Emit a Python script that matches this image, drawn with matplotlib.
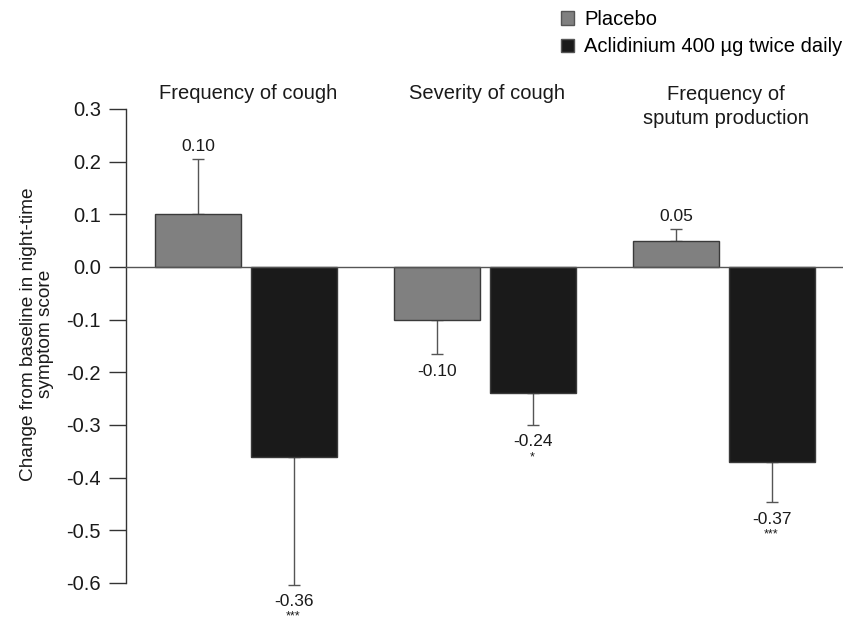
import matplotlib
matplotlib.use("Agg")
import matplotlib.pyplot as plt
from matplotlib.patches import Patch
import numpy as np

plt.rcParams['font.family'] = ['Liberation Sans', 'DejaVu Sans']

categories = ["Frequency of cough", "Severity of cough", "Frequency of\nsputum production"]
series_names = ["Placebo", "Aclidinium 400 \u00b5g twice daily"]
placebo = [0.10, -0.10, 0.05]
aclidinium = [-0.36, -0.24, -0.37]
placebo_err = [0.105, 0.065, 0.022]
aclidinium_err = [0.243, 0.06, 0.077]
placebo_labels = ["0.10", "-0.10", "0.05"]
aclidinium_labels = ["-0.36", "-0.24", "-0.37"]
aclidinium_sig = ["***", "*", "***"]
yticks = [0.3, 0.2, 0.1, 0.0, -0.1, -0.2, -0.3, -0.4, -0.5, -0.6]

colors = ["#808080", "#1a1a1a"]
txt = "#1a1a1a"

fig = plt.figure(figsize=(8.43, 6.21), dpi=100)
ax = fig.add_axes([126/843, 1-583/621, 1-126/843, (583-109)/621])

x = np.arange(len(categories))
w = 0.36
off = 0.199
err_kw = dict(ecolor="#555555", elinewidth=1.0, capsize=4, capthick=1.0)

ax.bar(x - off, placebo, w, color=colors[0], edgecolor="#3a3a3a", linewidth=1.0, zorder=2)
ax.bar(x + off, aclidinium, w, color=colors[1], edgecolor="#3a3a3a", linewidth=1.0, zorder=2)

# one-sided error bars (away from zero)
for i in range(len(categories)):
    for xv, val, e in [(x[i] - off, placebo[i], placebo_err[i]), (x[i] + off, aclidinium[i], aclidinium_err[i])]:
        yerr = [[0], [e]] if val >= 0 else [[e], [0]]
        eb = ax.errorbar(xv, val, yerr=yerr, fmt='none', zorder=1, **err_kw)
        for c in list(eb.lines[1]) + list(eb.lines[2]):
            c.set_clip_on(False)

ax.axhline(0, color="#555555", linewidth=1.0, zorder=3, clip_on=False)

px = 72 / 100.0  # points per pixel
# value labels
for i in range(len(categories)):
    v, e = placebo[i], placebo_err[i]
    if v >= 0:
        ax.annotate(placebo_labels[i], (x[i] - off, v + e), xytext=(0, 13 * px), textcoords="offset points",
                    ha="center", va="center", fontsize=12.5, color=txt, annotation_clip=False)
    else:
        ax.annotate(placebo_labels[i], (x[i] - off, v - e), xytext=(0, -18 * px), textcoords="offset points",
                    ha="center", va="center", fontsize=12.5, color=txt, annotation_clip=False)
    v, e = aclidinium[i], aclidinium_err[i]
    ax.annotate(aclidinium_labels[i], (x[i] + off, v - e), xytext=(0, -17 * px), textcoords="offset points",
                ha="center", va="center", fontsize=12.5, color=txt, annotation_clip=False)
    ax.annotate(aclidinium_sig[i], (x[i] + off, v - e), xytext=(0, -32 * px), textcoords="offset points",
                ha="center", va="center", fontsize=9, color=txt, annotation_clip=False)

# category titles
for i, c in enumerate(categories):
    yv = 0.33 if "\n" not in c else 0.305
    ax.text(x[i] + 0.01, yv, c, ha="center", va="center",
            fontsize=14.5, color=txt, linespacing=1.3, clip_on=False)

ax.set_xlim(-0.502, 2.498)
ax.set_ylim(-0.6, 0.3)
ax.set_yticks(yticks)
ax.set_yticklabels([f"{t:.1f}" for t in yticks])
ax.tick_params(axis='y', direction='out', length=12, width=1.0, color="#333333", pad=6,
               labelsize=14.5, labelcolor=txt)
ax.set_xticks([])
for s in ["top", "right", "bottom"]:
    ax.spines[s].set_visible(False)
ax.spines["left"].set_color("#333333")
ax.spines["left"].set_linewidth(1.0)

ax.set_ylabel("Change from baseline in night-time\nsymptom score", fontsize=13.7, color=txt,
              linespacing=1.05)
ax.yaxis.set_label_coords(-0.100, 0.525)

handles = [Patch(facecolor=colors[0], edgecolor="#555555"), Patch(facecolor=colors[1], edgecolor="#555555")]
fig.legend(handles, series_names, loc="upper left", bbox_to_anchor=(561/843, 1 - 10/621), frameon=False,
           fontsize=14.5, handlelength=0.65, handleheight=0.65, handletextpad=0.5, labelspacing=0.42,
           borderpad=0, borderaxespad=0)

fig.savefig("out.png", dpi=100)
